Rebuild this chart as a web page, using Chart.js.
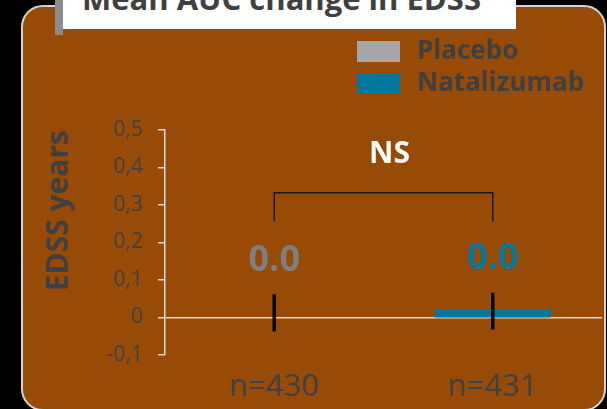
<!DOCTYPE html>
<html>
<head>
<meta charset="utf-8">
<script src="https://cdn.jsdelivr.net/npm/chart.js@4.4.1/dist/chart.umd.min.js"></script>
<style>
  body { margin: 0; background: #000; }
  #wrap { position: relative; width: 607px; height: 409px; overflow: hidden; background: #000; }
  .panel {
    position: absolute; left: 21px; top: 5px; width: 581px; height: 402px;
    background: #984a07; border: 2px solid #d4d4d4; border-radius: 22px;
  }
  .title-bar { position: absolute; left: 55px; top: 0; width: 8px; height: 35px; background: #8c8c8c; }
  .title-box { position: absolute; left: 63px; top: 0; width: 453px; height: 29px; background: #fff; overflow: hidden; }
  .title-box span {
    position: absolute; left: 19px; top: -17px; white-space: nowrap;
    font: bold 31px/31px "Open Sans", sans-serif; color: #404040;
  }
  #chart { position: absolute; left: 0; top: 0; }
</style>
</head>
<body>
<div id="wrap">
  <div class="panel"></div>
  <div class="title-bar"></div>
  <div class="title-box"><span>Mean AUC change in EDSS</span></div>
  <canvas id="chart" width="607" height="409"></canvas>
</div>
<script>
// 그룹 / 값
const groups = ["Placebo", "Natalizumab"];
const sampleSizes = ["n=430", "n=431"];
const meanChange = [0.0, 0.02];
const errLow = [-0.037, -0.032];
const errHigh = [0.062, 0.066];
const barColors = ["#a6a6a6", "#00779b"];
const valueColors = ["#7f7f7f", "#00779b"];

// y축 범위
const yMin = -0.1;
const yMax = 0.5;
const yStep = 0.1;

// 유의성 표시 (NS)
const bracketTop = 0.333;
const bracketEnd = 0.257;
const nsLevel = 0.436;
const nsText = "NS";

Chart.defaults.font.family = '"Open Sans", sans-serif';

const decor = {
  id: "decor",
  afterDatasetsDraw(chart) {
    const { ctx } = chart;
    const x = chart.scales.x;
    const y = chart.scales.y;
    ctx.save();

    groups.forEach((g, i) => {
      const cx = x.getPixelForValue(i);
      // 에러바
      ctx.strokeStyle = "#000";
      ctx.lineWidth = 3.5;
      ctx.beginPath();
      ctx.moveTo(cx, y.getPixelForValue(errHigh[i]));
      ctx.lineTo(cx, y.getPixelForValue(errLow[i]));
      ctx.stroke();

      // 값 라벨
      ctx.fillStyle = valueColors[i];
      ctx.font = 'bold 36px "Open Sans", sans-serif';
      ctx.textAlign = "center";
      ctx.textBaseline = "middle";
      ctx.fillText(meanChange[i].toFixed(1), cx, y.getPixelForValue(errHigh[i]) - 34);
    });

    // 괄호 + NS
    const x0 = x.getPixelForValue(0);
    const x1 = x.getPixelForValue(1);
    const yt = y.getPixelForValue(bracketTop);
    const ye = y.getPixelForValue(bracketEnd);
    ctx.strokeStyle = "#1a1a1a";
    ctx.lineWidth = 1.5;
    ctx.beginPath();
    ctx.moveTo(x0, ye);
    ctx.lineTo(x0, yt);
    ctx.lineTo(x1, yt);
    ctx.lineTo(x1, ye);
    ctx.stroke();

    ctx.fillStyle = "#fff";
    ctx.font = 'bold 30px "Open Sans", sans-serif';
    ctx.fillText(nsText, (x0 + x1) / 2 + 6, y.getPixelForValue(nsLevel));

    // 범례
    chart.data.datasets.forEach((ds, i) => {
      const top = 41 + i * 32;
      ctx.fillStyle = ds.backgroundColor;
      ctx.fillRect(357, top, 43, 21);
      ctx.fillStyle = "#404040";
      ctx.font = 'bold 26px "Open Sans", sans-serif';
      ctx.textAlign = "left";
      ctx.fillText(ds.label, 417, top + 11);
    });

    ctx.restore();
  },
};

new Chart(document.getElementById("chart"), {
  type: "bar",
  data: {
    labels: sampleSizes,
    datasets: groups.map((g, i) => ({
      label: g,
      data: sampleSizes.map((s, j) => (j === i ? meanChange[i] : null)),
      backgroundColor: barColors[i],
      borderWidth: 0,
    })),
  },
  options: {
    responsive: false,
    animation: false,
    layout: { padding: { top: 130, right: 5, bottom: 0, left: 0 } },
    datasets: { bar: { grouped: false, barPercentage: 0.53, categoryPercentage: 1 } },
    plugins: {
      legend: { display: false },
      tooltip: { enabled: false },
    },
    scales: {
      x: {
        grid: { display: false },
        border: { display: false },
        ticks: { color: "#404040", font: { size: 31 }, padding: 6 },
        afterFit: (s) => {
          s.height = 54;
        },
      },
      y: {
        min: yMin,
        max: yMax,
        afterFit: (s) => {
          s.width = 165;
        },
        border: { color: "#d9d9d9", width: 1.5 },
        grid: {
          color: (c) => (c.tick && Math.abs(c.tick.value) < 1e-9 ? "#d9d9d9" : "transparent"),
          tickColor: "#d9d9d9",
          tickLength: 7,
          lineWidth: 1.5,
        },
        ticks: {
          stepSize: yStep,
          color: "#404040",
          font: { size: 21 },
          padding: 15,
          callback: (v) => {
            const r = Math.round(v * 10) / 10;
            return r === 0 ? "0" : r.toFixed(1).replace(".", ",");
          },
        },
        title: {
          display: true,
          text: "EDSS years",
          color: "#404040",
          align: "end",
          font: { size: 30, weight: "bold" },
          padding: { top: 41 },
        },
      },
    },
  },
  plugins: [decor],
});
</script>
</body>
</html>
